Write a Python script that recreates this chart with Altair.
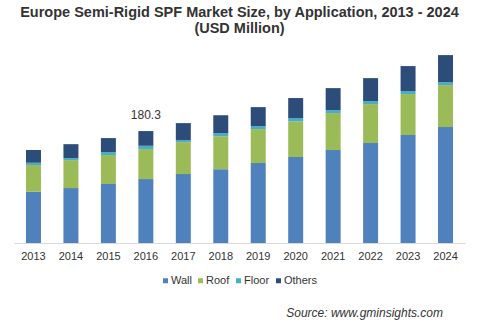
import altair as alt
import pandas as pd

years = [str(y) for y in range(2013, 2025)]
wall = [82.6, 88.5, 95.0, 103.0, 111.0, 119.0, 128.8, 138.5, 149.7, 161.0, 173.9, 186.8]
roof = [43.0, 45.0, 46.7, 48.3, 51.5, 53.0, 54.7, 57.5, 59.6, 62.8, 66.0, 67.6]
floor = [3.7, 3.2, 4.8, 5.3, 3.2, 4.8, 4.8, 5.3, 4.8, 4.8, 4.8, 4.8]
others = [20.4, 22.5, 22.5, 23.7, 27.4, 29.0, 30.6, 32.2, 35.4, 37.0, 40.3, 43.5]
segments = ["Wall", "Roof", "Floor", "Others"]
colors = ["#4F81BD", "#9BBB59", "#4BACC6", "#2C4D79"]
label_year = "2016"
label_text = "180.3"

rows = []
for i, y in enumerate(years):
    for k, (seg, vals) in enumerate(zip(segments, [wall, roof, floor, others])):
        rows.append({"year": y, "segment": seg, "value": vals[i], "order": k})
df = pd.DataFrame(rows)

tot = pd.DataFrame({"year": years,
                    "total": [w + r + f + o for w, r, f, o in zip(wall, roof, floor, others)]})
tot["label"] = [label_text if y == label_year else "" for y in years]

FONT = "Liberation Sans"

x_enc = alt.X("year:N", sort=years,
              scale=alt.Scale(paddingInner=0.6, paddingOuter=0.32),
              axis=alt.Axis(title=None, labelAngle=0, ticks=False, domainColor="#d9d9d9",
                            labelFontSize=11, labelColor="#333333", labelPadding=7,
                            labelFont=FONT))
y_scale = alt.Scale(domain=[0, 327], nice=False, zero=True)

bars = alt.Chart(df).mark_bar().encode(
    x=x_enc,
    y=alt.Y("value:Q", stack="zero", scale=y_scale, axis=None),
    color=alt.Color("segment:N", sort=segments,
                    scale=alt.Scale(domain=segments, range=colors),
                    legend=alt.Legend(title=None, orient="none", direction="horizontal",
                                      legendX=146, legendY=235, symbolType="square",
                                      symbolSize=25, symbolStrokeWidth=0,
                                      labelFontSize=11, labelFont=FONT,
                                      labelColor="#333333", labelOffset=0,
                                      columnPadding=3)),
    order=alt.Order("order:Q", sort="ascending"),
)

label = alt.Chart(tot).transform_filter(alt.datum.label != "").mark_text(
    baseline="alphabetic", dy=-12, fontSize=12, font=FONT, color="#333333"
).encode(
    x=alt.X("year:N", sort=years),
    y=alt.Y("total:Q", scale=y_scale),
    text="label:N",
)

source = alt.Chart(pd.DataFrame({"t": ["Source: www.gminsights.com"]})).mark_text(
    align="right", baseline="middle", fontSize=12, fontStyle="italic", font=FONT,
    color="#333333"
).encode(x=alt.value(429), y=alt.value(273), text="t:N")

chart = alt.layer(bars, label, source).properties(
    width=451, height=203,
    padding={"left": 14, "top": 40, "right": 15, "bottom": 80},
    autosize=alt.AutoSizeParams(type="none"),
    title=alt.Title(["Europe Semi-Rigid SPF Market Size, by Application, 2013 - 2024",
                     "(USD Million)"],
                    fontSize=14.5, font=FONT, fontWeight="bold", color="#333333",
                    anchor="middle", offset=4, lineHeight=16),
).configure_view(stroke=None)

chart.save("out.html", embed_options={"renderer": "svg", "actions": False})
